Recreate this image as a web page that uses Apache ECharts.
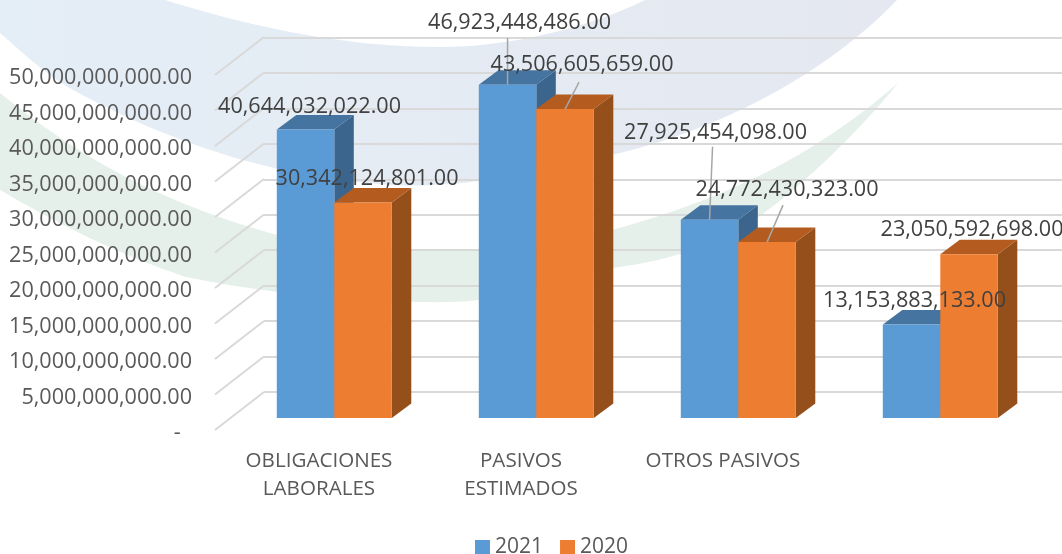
<!DOCTYPE html>
<html>
<head>
<meta charset="utf-8">
<style>html,body{margin:0;padding:0;background:#fff}#c{width:1062px;height:554px}</style>
<script src="https://cdn.jsdelivr.net/npm/echarts@6/dist/echarts.min.js"></script>
</head>
<body>
<div id="c"></div>
<script>
const categories = ['OBLIGACIONES\nLABORALES', 'PASIVOS\nESTIMADOS', 'OTROS PASIVOS', ''];
const values2021 = [40644032022, 46923448486, 27925454098, 13153883133];
const values2020 = [30342124801, 43506605659, 24772430323, 23050592698];
const yTicks = [0, 5e9, 10e9, 15e9, 20e9, 25e9, 30e9, 35e9, 40e9, 45e9, 50e9];

// Layout only (pixels)
const FONT = '"Open Sans"';
const barW = 57.5, depthX = 19.5, depthY = 14.5;
const shiftX = 15.3, shiftY = -12;      // bars stand inside the floor
const wallX = 49, wallY = -38;
// label centre relative to the bar's front-top centre
const labelOffs2021 = [[4, -23], [12, -62], [6, -87], [3, -24]];
const labelOffs2020 = [[4, -24], [17, -44], [20, -52], [3, -24]];
const leaders2021 = [null, [0, -47], [3, -73], null];
const leaders2020 = [null, [14, -27], [16, -37], null];

const fmt = v => v.toLocaleString('en-US', {minimumFractionDigits: 2, maximumFractionDigits: 2});

// Decorative background shapes: start point, then cubic segments (c1, c2, end) or straight points
function swoosh(start, segs) {
  const pts = [start];
  let p = start;
  segs.forEach(s => {
    if (s.length === 2) { pts.push(s); p = s; return; }
    for (let k = 1; k <= 24; k++) {
      const t = k / 24, u = 1 - t;
      pts.push([
        u*u*u*p[0] + 3*u*u*t*s[0] + 3*u*t*t*s[2] + t*t*t*s[4],
        u*u*u*p[1] + 3*u*u*t*s[1] + 3*u*t*t*s[3] + t*t*t*s[5]
      ]);
    }
    p = [s[4], s[5]];
  });
  return pts;
}
const blueBand = swoosh([0, 0], [[165, 0], [260,30,370,52,470,46], [540,40,600,22,645,0], [897,0],
  [840,60,740,125,612,155], [520,178,440,190,380,184], [290,178,180,150,68,87], [40,70,20,50,0,33]]);
const greenBand = swoosh([0, 93], [[70,150,150,200,277,235], [340,250,400,252,478,250], [540,246,590,236,612,230],
  [720,200,810,160,898,83], [860,130,800,190,740,230], [700,250,660,262,612,268], [540,292,480,304,430,302],
  [340,302,250,290,186,277], [120,255,60,225,0,190]]);

function barRenderer(side, colors, offs, leaders) {
  return function (params, api) {
    const i = api.value(0), v = api.value(1);
    const t = api.coord([i, v]), b = api.coord([i, 0]);
    const x0 = t[0] + shiftX + (side < 0 ? -barW : 0), x1 = x0 + barW;
    const yt = t[1] + shiftY, yb = b[1] + shiftY;
    const poly = (points, fill, z2) => ({type: 'polygon', shape: {points}, z2: z2 || 0, style: {fill}});
    const cx = (x0 + x1) / 2;
    const children = [
      poly([[x1, yt], [x1 + depthX, yt - depthY], [x1 + depthX, yb - depthY], [x1, yb]], colors.side),
      poly([[x0, yt], [x0 + depthX, yt - depthY], [x1 + depthX, yt - depthY], [x1, yt]], colors.top),
      poly([[x0, yt], [x1, yt], [x1, yb], [x0, yb]], colors.front),
      {type: 'text', z2: 100, style: {
        text: fmt(v), x: cx + offs[i][0], y: yt + offs[i][1],
        align: 'center', verticalAlign: 'middle',
        font: '21.6px ' + FONT, fill: '#404040'
      }}
    ];
    if (leaders[i]) {
      children.push({type: 'line', z2: 90,
        shape: {x1: cx, y1: yt, x2: cx + leaders[i][0], y2: yt + leaders[i][1]},
        style: {stroke: '#a6a6a6', lineWidth: 1.5}});
    }
    return {type: 'group', children};
  };
}

const blue = {front: '#5B9BD5', top: '#4674A1', side: '#3B658D'};
const orange = {front: '#ED7D31', top: '#B45C20', side: '#954F1B'};

const option = {
  animation: false,
  backgroundColor: '#fff',
  textStyle: {fontFamily: 'Open Sans'},
  graphic: [
    {type: 'polygon', z: -10, silent: true, shape: {points: blueBand},
     style: {fill: new echarts.graphic.LinearGradient(0, 0, 1, 0, [{offset: 0, color: '#E4EEF6'}, {offset: 1, color: '#E5E8F1'}])}},
    {type: 'polygon', z: -10, silent: true, shape: {points: greenBand}, style: {fill: '#E5F0EA'}}
  ],
  legend: {
    data: ['2021', '2020'], left: 470, top: 532, icon: 'rect',
    itemWidth: 15, itemHeight: 15, itemGap: 17, selectedMode: false,
    textStyle: {fontFamily: 'Open Sans', fontSize: 21, color: '#595959'}
  },
  grid: [
    {left: 218, top: 75, width: 808, height: 355},
    {left: 264, top: 37.5, right: 0, height: 354.5}
  ],
  xAxis: [
    {type: 'category', gridIndex: 0, data: categories,
     axisLine: {show: false}, axisTick: {show: false},
     axisLabel: {margin: 17, fontFamily: 'Open Sans', fontSize: 20.6, lineHeight: 28, color: '#595959', interval: 0}},
    {type: 'value', gridIndex: 1, show: false, min: 0, max: 1}
  ],
  yAxis: [
    {type: 'value', gridIndex: 0, min: 0, max: 5e10, interval: 5e9,
     axisLine: {show: false}, axisTick: {show: false}, splitLine: {show: false},
     axisLabel: {margin: 26, fontFamily: 'Open Sans', fontSize: 21.6, color: '#595959',
       verticalAlign: 'top', lineHeight: 6,
       formatter: v => v === 0 ? '-  ' : fmt(v)}},
    {type: 'value', gridIndex: 1, min: 0, max: 5e10, interval: 5e9,
     axisLine: {show: false}, axisTick: {show: false}, axisLabel: {show: false},
     splitLine: {show: true, lineStyle: {color: '#D9D9D9', width: 2}}}
  ],
  series: [
    {type: 'custom', name: 'wall', xAxisIndex: 0, yAxisIndex: 0, silent: true, clip: false,
     data: yTicks.map(v => [0, v]), encode: {x: 0, y: 1},
     renderItem: (params, api) => {
       const p = api.coord([0, api.value(1)]);
       const x = params.coordSys.x;
       return {type: 'line', shape: {x1: x - 3, y1: p[1], x2: x - 3 + wallX, y2: p[1] + wallY},
               style: {stroke: '#D9D9D9', lineWidth: 2}};
     }},
    {type: 'custom', name: '2021', xAxisIndex: 0, yAxisIndex: 0, clip: false,
     itemStyle: {color: blue.front},
     data: values2021.map((v, i) => [i, v]), encode: {x: 0, y: 1},
     renderItem: barRenderer(-1, blue, labelOffs2021, leaders2021)},
    {type: 'custom', name: '2020', xAxisIndex: 0, yAxisIndex: 0, clip: false,
     itemStyle: {color: orange.front},
     data: values2020.map((v, i) => [i, v]), encode: {x: 0, y: 1},
     renderItem: barRenderer(1, orange, labelOffs2020, leaders2020)}
  ]
};
echarts.init(document.getElementById('c'), null, {renderer: 'canvas'}).setOption(option);
</script>
</body>
</html>
